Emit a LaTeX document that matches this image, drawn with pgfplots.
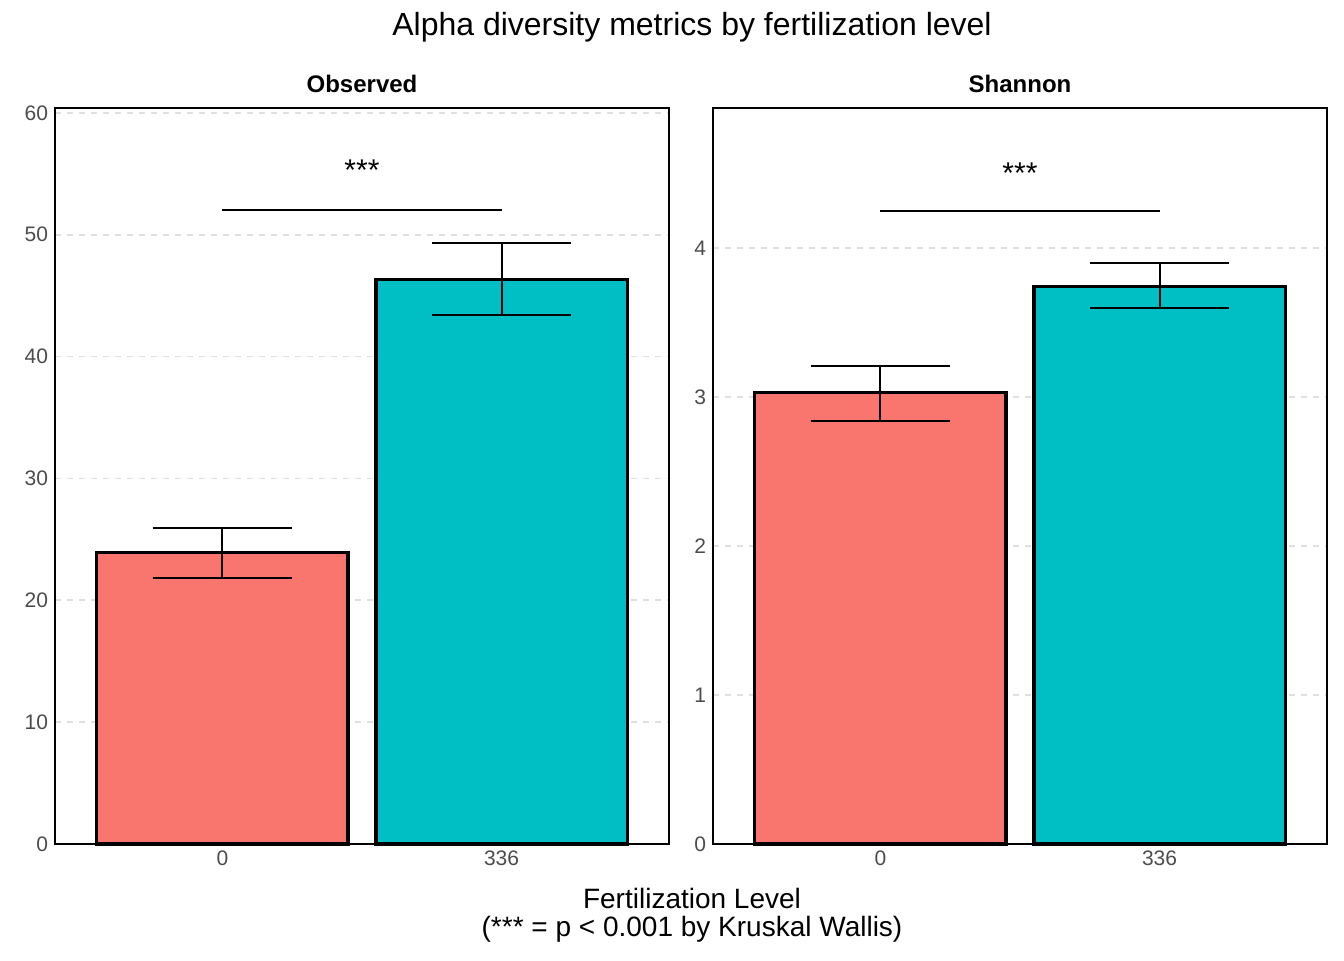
\documentclass[border=0pt]{standalone}
\usepackage{pgfplots}
\pgfplotsset{compat=1.18}
\usepackage{fontspec}
\setmainfont{Liberation Sans}
\definecolor{cred}{HTML}{F8766D}
\definecolor{cteal}{HTML}{00BFC4}
\pgfplotsset{panel/.style={
  scale only axis, width=307pt, height=368pt, anchor=south west,
  xmin=0.4, xmax=2.6, ymin=0, xtick={1,2}, xticklabels={0,336},
  major tick length=0pt, axis line style={line width=0.8pt},
  ymajorgrids, grid style={dashed, gray!25, line width=0.8pt},
  tick label style={font=\fontsize{10.5}{12}\selectfont, text=black!70},
  /pgf/number format/assume math mode=true,
  title style={font=\bfseries\fontsize{12}{14}\selectfont, yshift=-2pt},
  ybar, bar width=0.9, bar shift=0pt,
  clip=false}}
\begin{document}
\begin{tikzpicture}
\useasboundingbox (0,0) rectangle (672pt,480pt);
\begin{axis}[panel, at={(27.5pt,58pt)}, ymax=60.4, ytick={0,10,...,60}, title={Observed}]
\addplot[fill=cred, draw=black, line width=1.6pt] coordinates {(1,23.9)};
\addplot[fill=cteal, draw=black, line width=1.6pt] coordinates {(2,46.3)};
\addplot[sharp plot, black, line width=1pt] coordinates {(1,21.8) (1,25.9)};
\addplot[sharp plot, black, line width=1pt] coordinates {(0.75,25.9) (1.25,25.9)};
\addplot[sharp plot, black, line width=1pt] coordinates {(0.75,21.8) (1.25,21.8)};
\addplot[sharp plot, black, line width=1pt] coordinates {(2,43.4) (2,49.3)};
\addplot[sharp plot, black, line width=1pt] coordinates {(1.75,49.3) (2.25,49.3)};
\addplot[sharp plot, black, line width=1pt] coordinates {(1.75,43.4) (2.25,43.4)};
\addplot[sharp plot, black, line width=1pt] coordinates {(1,52) (2,52)};
\node[font=\fontsize{15}{16}\selectfont] at (axis cs:1.5,55.3) {***};
\end{axis}
\begin{axis}[panel, at={(356.5pt,58pt)}, ymax=4.94, ytick={0,1,2,3,4}, title={Shannon}]
\addplot[fill=cred, draw=black, line width=1.6pt] coordinates {(1,3.03)};
\addplot[fill=cteal, draw=black, line width=1.6pt] coordinates {(2,3.74)};
\addplot[sharp plot, black, line width=1pt] coordinates {(1,2.84) (1,3.21)};
\addplot[sharp plot, black, line width=1pt] coordinates {(0.75,3.21) (1.25,3.21)};
\addplot[sharp plot, black, line width=1pt] coordinates {(0.75,2.84) (1.25,2.84)};
\addplot[sharp plot, black, line width=1pt] coordinates {(2,3.60) (2,3.90)};
\addplot[sharp plot, black, line width=1pt] coordinates {(1.75,3.90) (2.25,3.90)};
\addplot[sharp plot, black, line width=1pt] coordinates {(1.75,3.60) (2.25,3.60)};
\addplot[sharp plot, black, line width=1pt] coordinates {(1,4.25) (2,4.25)};
\node[font=\fontsize{15}{16}\selectfont] at (axis cs:1.5,4.50) {***};
\end{axis}
\node[font=\fontsize{16}{18}\selectfont] at (346pt,466.5pt) {Alpha diversity metrics by fertilization level};
\node[font=\fontsize{14}{16}\selectfont] at (346pt,31pt) {Fertilization Level};
\node[font=\fontsize{14}{16}\selectfont] at (346pt,15.5pt) {(*** = p < 0.001 by Kruskal Wallis)};
\end{tikzpicture}
\end{document}
